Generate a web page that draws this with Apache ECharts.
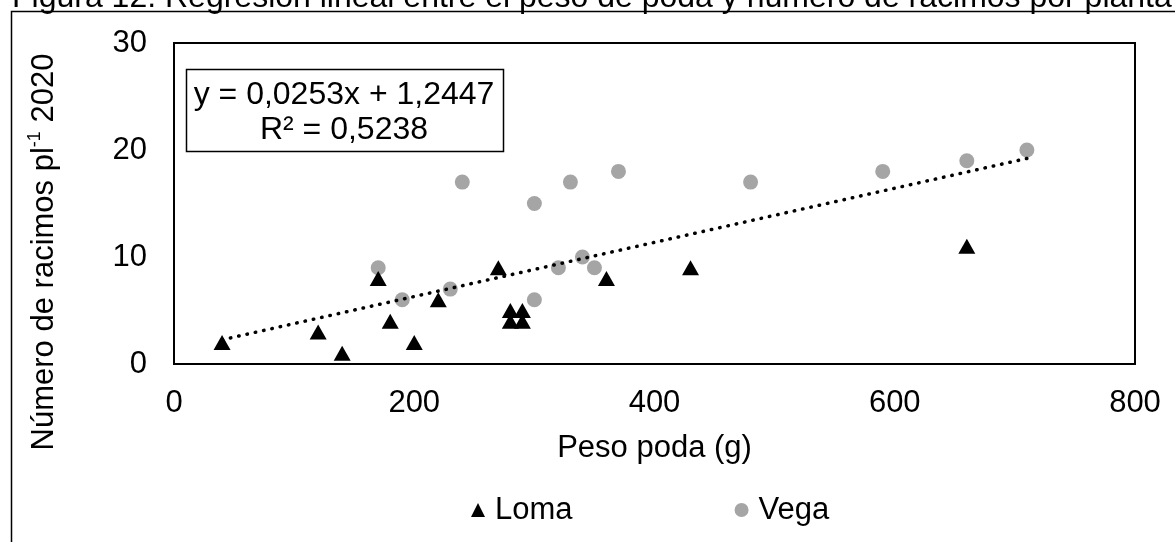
<!DOCTYPE html>
<html>
<head>
<meta charset="utf-8">
<script src="https://cdn.jsdelivr.net/npm/echarts@6/dist/echarts.min.js"></script>
<style>
    html, body { margin: 0; padding: 0; background: #fff; }
    #chart { width: 1175px; height: 542px; }
</style>
</head>
<body>
<div id="chart"></div>
<script>
// Loma (triangles)
var lomaX = [40, 120, 140, 170, 180, 200, 220, 270, 280, 280, 290, 290, 360, 430, 660]
var lomaY = [2, 3, 1, 8, 4, 2, 6, 9, 5, 4, 5, 4, 8, 9, 11]
// Vega (circles)
var vegaX = [170, 190, 230, 240, 300, 300, 320, 330, 340, 350, 370, 480, 590, 660, 710]
var vegaY = [9, 6, 7, 17, 15, 6, 9, 17, 10, 9, 18, 17, 18, 19, 20]
// linear trend, end points
var trendX = [40, 710]
var trendY = [2.26, 19.21]
var eqLines = ['y = 0,0253x + 1,2447', 'R² = 0,5238']
var xTicks = [0, 800, 200]
var yTicks = [0, 30, 10]

function pairs(xs, ys) {
    return xs.map(function (x, i) { return [x, ys[i]] })
}

var font = '"Liberation Sans", Arial, sans-serif'
var chart = echarts.init(document.getElementById('chart'))

var option = {
    animation: false,
    textStyle: { fontFamily: font, color: '#000' },
    grid: {
        left: 174, right: 40, top: 43, bottom: 178,
        show: true, borderColor: '#000', borderWidth: 2
    },
    legend: {
        data: ['Loma', 'Vega'],
        left: 466, top: 487,
        itemWidth: 14, itemHeight: 14, itemGap: 162,
        textStyle: { fontSize: 31, lineHeight: 36, color: '#000', fontFamily: font, padding: [0, 0, 0, 5] }
    },
    xAxis: {
        type: 'value',
        min: xTicks[0], max: xTicks[1], interval: xTicks[2],
        name: 'Peso poda (g)',
        nameLocation: 'middle',
        nameGap: 66,
        nameTextStyle: { fontSize: 31, lineHeight: 36, color: '#000', fontFamily: font },
        axisLine: { show: false },
        axisTick: { show: false },
        splitLine: { show: false },
        axisLabel: { fontSize: 31, lineHeight: 36, margin: 21, color: '#000', fontFamily: font }
    },
    yAxis: {
        type: 'value',
        min: yTicks[0], max: yTicks[1], interval: yTicks[2],
        name: '{a|Número de racimos pl}{sup|-1}{a| 2020}',
        nameLocation: 'middle',
        nameGap: 112,
        nameTextStyle: {
            padding: [0, 97, 0, 0],
            rich: {
                a: { fontSize: 31, lineHeight: 36, color: '#000', fontFamily: font },
                sup: { fontSize: 18, lineHeight: 18, verticalAlign: 'top', color: '#000', fontFamily: font }
            }
        },
        axisLine: { show: false },
        axisTick: { show: false },
        splitLine: { show: false },
        axisLabel: { fontSize: 31, margin: 27, color: '#000', fontFamily: font }
    },
    graphic: [
        {
            type: 'rect', silent: true, z: -1,
            shape: { x: 11.5, y: 11.5, width: 1300, height: 700 },
            style: { fill: null, stroke: '#000', lineWidth: 1.5 }
        },
        {
            type: 'text', silent: true,
            style: {
                text: 'Figura 12. Regresión lineal entre el peso de poda y número de racimos por planta',
                x: 12, y: 14, textAlign: 'left', textVerticalAlign: 'bottom',
                font: '32px ' + font, fill: '#000'
            }
        },
        {
            type: 'rect', silent: true, z: 10,
            shape: { x: 186.5, y: 69.5, width: 317, height: 82 },
            style: { fill: '#fff', stroke: '#000', lineWidth: 1.5 }
        },
        {
            type: 'text', silent: true, z: 11,
            style: {
                text: eqLines[0], x: 344, y: 95, textAlign: 'center', textVerticalAlign: 'middle',
                font: '32px ' + font, fill: '#000'
            }
        },
        {
            type: 'text', silent: true, z: 11,
            style: {
                text: eqLines[1], x: 344, y: 130, textAlign: 'center', textVerticalAlign: 'middle',
                font: '32px ' + font, fill: '#000'
            }
        }
    ],
    series: [
        {
            name: 'Loma',
            type: 'scatter',
            z: 3,
            symbol: 'triangle',
            symbolSize: [17, 15],
            itemStyle: { color: '#000', opacity: 1 },
            data: pairs(lomaX, lomaY)
        },
        {
            name: 'Vega',
            type: 'scatter',
            z: 2,
            symbol: 'circle',
            symbolSize: 15,
            itemStyle: { color: '#a5a5a5', opacity: 1 },
            data: pairs(vegaX, vegaY)
        },
        {
            name: 'Lineal',
            type: 'line',
            z: 4,
            showSymbol: false,
            symbol: 'none',
            lineStyle: { color: '#000', width: 3.5, type: [0.5, 8], cap: 'round' },
            data: pairs(trendX, trendY)
        }
    ]
}

chart.setOption(option)
window.addEventListener('resize', () => { chart.resize() }, false)
</script>
</body>
</html>
